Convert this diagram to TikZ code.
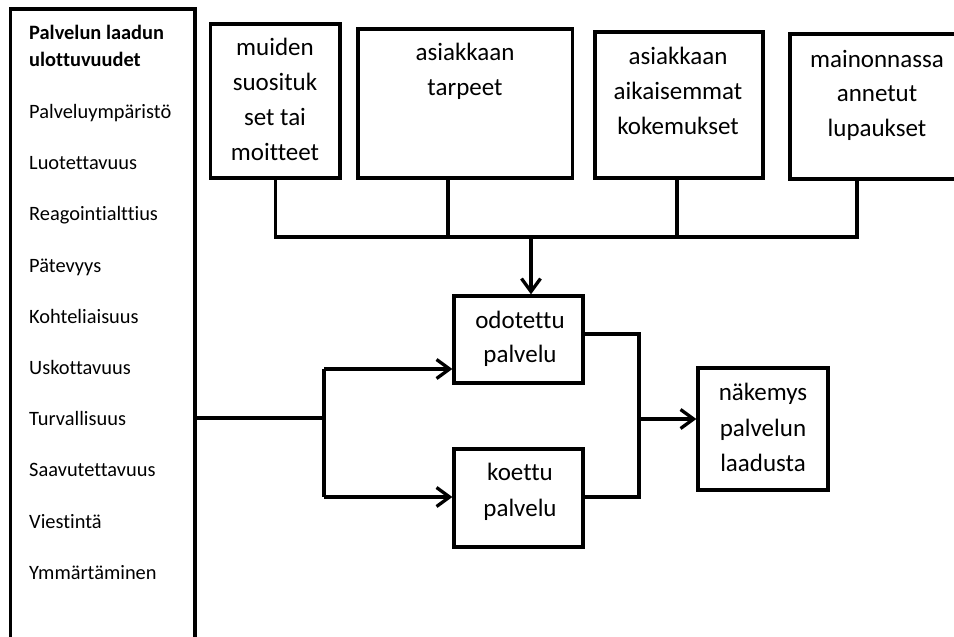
\documentclass[tikz,border=0pt]{standalone}
\usepackage{fontspec}
\setmainfont{Carlito}[Ligatures={NoCommon}]
\usetikzlibrary{arrows.meta}
\begin{document}
\begin{tikzpicture}[x=1pt,y=-1pt,
  frame/.style={draw=black, line width=3.3pt, rectangle, inner sep=0pt},
  wire/.style={draw=black, line width=3.3pt},
  arr/.style={wire, -{Straight Barb[length=13pt,width=19pt]}},
  big/.style={font=\fontsize{25}{30}\selectfont, inner sep=0pt, anchor=base},
  side/.style={font=\fontsize{20.4}{24}\selectfont, inner sep=0pt, anchor=base west},
]
\clip (0,0) rectangle (954,637);
\fill[white] (0,0) rectangle (954,637);

% dimensions column
\node[frame, minimum width=184.5pt, minimum height=641pt] (dims) at (102.75,329.5) {};
\node[side, font=\fontsize{20.4}{24}\selectfont\bfseries] (h1) at (29,39.5) {Palvelun laadun};
\node[side, font=\fontsize{20.4}{24}\selectfont\bfseries] (h2) at (29,66) {ulottuvuudet};
\foreach \t [count=\i from 0] in {Palveluympäristö, Luotettavuus, Reagointialttius,
    Pätevyys, Kohteliaisuus, Uskottavuus, Turvallisuus, Saavutettavuus,
    Viestintä, Ymmärtäminen}
  \node[side] (dim\i) at (29,{118.5+51.2*\i}) {\t};

% expectation sources
\node[frame, minimum width=129.5pt, minimum height=154pt] (b1) at (275.25,101) {};
\node[frame, minimum width=214.5pt, minimum height=149pt] (b2) at (465.25,103.5) {};
\node[frame, minimum width=168pt, minimum height=146pt] (b3) at (679,105) {};
\node[frame, minimum width=174pt, minimum height=145pt] (b4) at (877,106.5) {};

\node[big] (b1a) at (275,55.7) {muiden};
\node[big] (b1b) at (275,90.7) {suosituk};
\node[big] (b1c) at (275,125.7) {set tai};
\node[big] (b1d) at (275,160.7) {moitteet};

\node[big] (b2a) at (465,60.7) {asiakkaan};
\node[big] (b2b) at (465,95.7) {tarpeet};

\node[big] (b3a) at (678,64.7) {asiakkaan};
\node[big] (b3b) at (678,99.7) {aikaisemmat};
\node[big] (b3c) at (678,134.7) {kokemukset};

\node[big] (b4a) at (877,67.7) {mainonnassa};
\node[big] (b4b) at (877,101.7) {annetut};
\node[big] (b4c) at (877,136.7) {lupaukset};

% service boxes
\node[frame, minimum width=129pt, minimum height=87pt] (odot) at (518.5,339.5) {};
\node[big] (odota) at (520,328.7) {odotettu};
\node[big] (odotb) at (520,362.7) {palvelu};

\node[frame, minimum width=129pt, minimum height=98pt] (koet) at (518.5,498) {};
\node[big] (koeta) at (520,480.7) {koettu};
\node[big] (koetb) at (520,516.7) {palvelu};

\node[frame, minimum width=130pt, minimum height=122pt] (nak) at (763,429) {};
\node[big] (naka) at (763,400.7) {näkemys};
\node[big] (nakb) at (763,436.7) {palvelun};
\node[big] (nakc) at (763,471.7) {laadusta};

% collecting bus
\coordinate (d2) at (448,237);
\coordinate (d3) at (677,237);
\coordinate (d4) at (857,237);
\coordinate (dA) at (531,237);
\draw[wire] (b1.south) |- (d4) -- (b4.south -| d4);
\draw[wire] (b2.south -| d2) -- (d2);
\draw[wire] (b3.south -| d3) -- (d3);
\draw[arr] (dA) -- (odot.north -| dA);

% split from the dimensions column
\coordinate (split) at (324,418);
\coordinate (splitTop) at (324,369);
\coordinate (splitBot) at (324,497);
\draw[wire] (dims.east |- split) -- (split);
\draw[wire] (splitTop) -- (splitBot);
\draw[arr] (splitTop) -- (odot.west |- splitTop);
\draw[arr] (splitBot) -- (koet.west |- splitBot);

% join towards perceived quality
\coordinate (joinTop) at (639,334);
\coordinate (joinBot) at (639,497);
\coordinate (join) at (639,419);
\draw[wire] (odot.east |- joinTop) -- (joinTop) -- (joinBot) -- (koet.east |- joinBot);
\draw[arr] (join) -- (nak.west |- join);
\end{tikzpicture}
\end{document}
